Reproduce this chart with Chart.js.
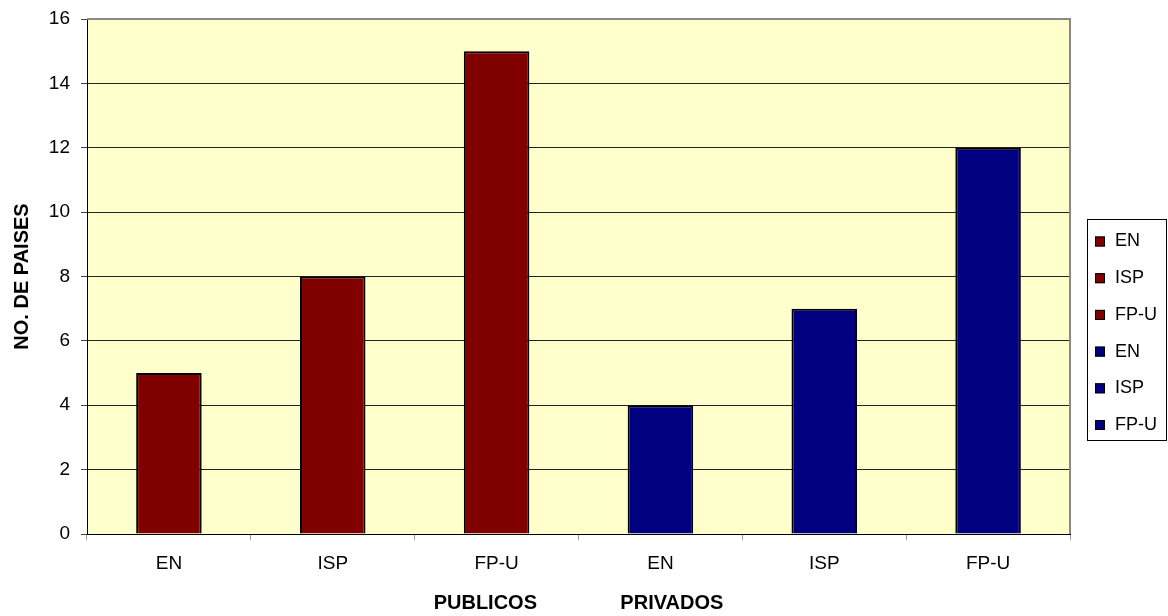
<!DOCTYPE html>
<html>
<head>
<meta charset="utf-8">
<title>No. de paises</title>
<script src="https://cdn.jsdelivr.net/npm/chart.js@4"></script>
<style>
    body { margin: 0; background: #fff; }
    canvas { display: block; }
</style>
</head>
<body>
<canvas id="paisesChart" width="1168" height="616"></canvas>
<script>
// Chart data
const categories = ['EN', 'ISP', 'FP-U', 'EN', 'ISP', 'FP-U'];
const paises = [5, 8, 15, 4, 7, 12];
const sectores = ['PUBLICOS', 'PRIVADOS'];
const yTicks = [0, 2, 4, 6, 8, 10, 12, 14, 16];

const RED = '#800000';
const BLUE = '#000080';
const FONT = 'Arial, "Liberation Sans", sans-serif';

// first three bars are public, the rest private
const barColors = categories.map((c, i) => i < 3 ? RED : BLUE);

// Yellow plot background plus the grey frame on top/right
const plotFrame = {
    id: 'plotFrame',
    beforeDraw(chart) {
        const { ctx, chartArea: a } = chart;
        ctx.save();
        ctx.fillStyle = '#FFFFCC';
        ctx.fillRect(a.left, a.top, a.right - a.left, a.bottom - a.top);
        ctx.restore();
    },
    afterDraw(chart) {
        const { ctx, chartArea: a } = chart;
        ctx.save();
        ctx.strokeStyle = '#888888';
        ctx.lineWidth = 2;
        ctx.beginPath();
        ctx.moveTo(a.left, a.top);
        ctx.lineTo(a.right, a.top);
        ctx.lineTo(a.right, a.bottom);
        ctx.stroke();
        ctx.restore();
    }
};

// Boxed legend on the right, one entry per bar
const boxLegend = {
    id: 'boxLegend',
    afterDraw(chart) {
        const { ctx } = chart;
        const x = 1087, y = 219, w = 79, h = 221;
        ctx.save();
        ctx.fillStyle = '#fff';
        ctx.fillRect(x, y, w, h);
        ctx.strokeStyle = '#000';
        ctx.lineWidth = 1;
        ctx.strokeRect(x + 0.5, y + 0.5, w, h);
        ctx.font = '18px ' + FONT;
        ctx.textBaseline = 'middle';
        categories.forEach((label, i) => {
            const cy = 241.5 + i * 36.7;
            ctx.fillStyle = barColors[i];
            ctx.fillRect(x + 8, cy - 5, 10, 10);
            ctx.strokeStyle = '#000';
            ctx.strokeRect(x + 8.5, cy - 4.5, 9, 9);
            ctx.fillStyle = '#000';
            ctx.fillText(label, x + 28, cy);
        });
        ctx.restore();
    }
};

const ctx = document.getElementById('paisesChart').getContext('2d');
const paisesChart = new Chart(ctx, {
    type: 'bar',
    data: {
        labels: categories,
        datasets: [{
            data: paises,
            backgroundColor: barColors,
            borderColor: '#000',
            borderWidth: 2,
            barPercentage: 0.4,
            categoryPercentage: 1.0
        }]
    },
    options: {
        responsive: false,
        animation: false,
        layout: {
            padding: { left: 0, right: 98, top: 19, bottom: 0 }
        },
        plugins: {
            legend: { display: false },
            tooltip: { enabled: false }
        },
        scales: {
            x: {
                afterFit: scale => { scale.height = 82; },
                grid: {
                    display: true,
                    drawOnChartArea: false,
                    tickLength: 6,
                    color: '#999'
                },
                border: { color: '#000', width: 1 },
                ticks: {
                    color: '#000',
                    padding: 12,
                    font: { family: FONT, size: 19 }
                },
                title: {
                    display: true,
                    text: sectores.join(' '.repeat(15)),
                    color: '#000',
                    padding: { top: 0, bottom: 1 },
                    font: { family: FONT, size: 20, weight: 'bold' }
                }
            },
            y: {
                min: 0,
                max: 16,
                afterFit: scale => { scale.width = 87; },
                afterBuildTicks: scale => {
                    scale.ticks = yTicks.map(v => ({ value: v }));
                },
                grid: {
                    tickLength: 6,
                    color: ctx => ctx.tick && ctx.tick.value === 16 ? '#888' : '#222',
                    tickColor: '#444'
                },
                border: { color: '#000', width: 1 },
                ticks: {
                    color: '#000',
                    padding: 11,
                    // small lineHeight keeps the top label from pushing the plot down
                    font: { family: FONT, size: 19, lineHeight: 0.5 }
                },
                title: {
                    display: true,
                    text: 'NO. DE PAISES',
                    color: '#000',
                    padding: { top: 10, bottom: 0 },
                    font: { family: FONT, size: 20, weight: 'bold' }
                }
            }
        }
    },
    plugins: [plotFrame, boxLegend]
});
</script>
</body>
</html>
